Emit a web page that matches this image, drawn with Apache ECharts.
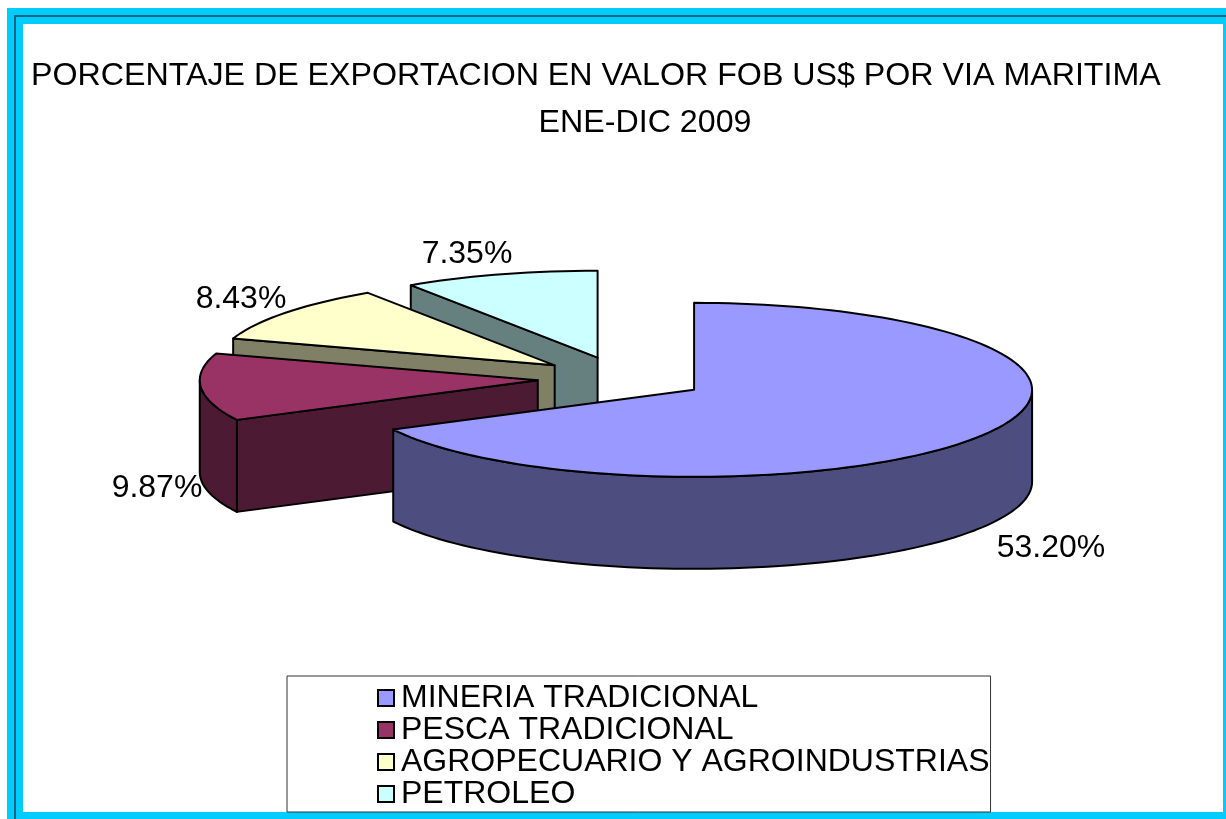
<!DOCTYPE html>
<html>
<head>
<meta charset="utf-8">
<style>
  html, body { margin: 0; padding: 0; background: #fff; }
  #main { width: 1226px; height: 819px; }
</style>
<script src="https://cdn.jsdelivr.net/npm/echarts@6/dist/echarts.min.js"></script>
</head>
<body>
<div id="main"></div>
<script>
const categories = ['MINERIA TRADICIONAL', 'PESCA TRADICIONAL', 'AGROPECUARIO Y AGROINDUSTRIAS', 'PETROLEO'];
const values = [53.20, 9.87, 8.43, 7.35];
const topColors = ['#9999FF', '#993366', '#FFFFCC', '#CCFFFF'];
const sideColors = ['#4D4D80', '#4D1A33', '#808066', '#668080'];
const labelBoxes = [[1051, 548], [157, 488], [241, 299], [467, 254]];

// pie layout
const cx = 622, cy = 378.5, rx = 338, ry = 87, depth = 92, explode = 0.25;
const FONT = 'Arial, "Liberation Sans", sans-serif';
const total = values.reduce((a, b) => a + b, 0);

function pt(ox, oy, deg, r) {
  const t = deg * Math.PI / 180;
  return [ox + rx * r * Math.sin(t), oy - ry * r * Math.cos(t)];
}
function arcPoints(ox, oy, a, b) {
  const pts = [];
  const n = Math.max(2, Math.ceil((b - a) / 2));
  for (let i = 0; i <= n; i++) pts.push(pt(ox, oy, a + (b - a) * i / n, 1));
  return pts;
}
function down(pts) {
  return pts.map(p => [p[0], p[1] + depth]).reverse();
}

function makeSlice(idx) {
  let before = 0;
  for (let i = 0; i < idx; i++) before += values[i];
  return function (params, api) {
    const a = before / total * 360;
    const b = a + api.value(0) / total * 360;
    const mid = pt(cx, cy, (a + b) / 2, explode);
    const ox = mid[0], oy = mid[1];
    const style = { stroke: '#000', lineWidth: 2, lineJoin: 'round' };
    const side = Object.assign({ fill: sideColors[idx] }, style);
    const kids = [];
    // radial walls facing the viewer
    [[a, Math.sin(a * Math.PI / 180) < -1e-6], [b, Math.sin(b * Math.PI / 180) > 1e-6]].forEach(w => {
      if (!w[1]) return;
      const edge = [pt(ox, oy, w[0], 1), [ox, oy]];
      kids.push({ type: 'polygon', shape: { points: edge.concat(down(edge)) }, style: side });
    });
    // outer wall, front half only
    const fa = Math.max(a, 90), fb = Math.min(b, 270);
    if (fb > fa) {
      const arc = arcPoints(ox, oy, fa, fb);
      kids.push({ type: 'polygon', shape: { points: arc.concat(down(arc)) }, style: side });
    }
    // top face
    kids.push({
      type: 'polygon',
      shape: { points: [[ox, oy]].concat(arcPoints(ox, oy, a, b)) },
      style: Object.assign({ fill: topColors[idx] }, style)
    });
    kids.push({
      type: 'text',
      style: {
        text: api.value(0).toFixed(2) + '%',
        x: labelBoxes[idx][0], y: labelBoxes[idx][1],
        align: 'center', verticalAlign: 'middle',
        font: '32px ' + FONT, fill: '#000'
      }
    });
    return { type: 'group', children: kids };
  };
}

const chart = echarts.init(document.getElementById('main'), null, { renderer: 'canvas' });

const option = {
  animation: false,
  backgroundColor: '#fff',
  graphic: [
    { type: 'rect', z: -2, shape: { x: 7, y: 8, width: 1219, height: 811 }, style: { fill: '#00CCFF' } },
    { type: 'polyline', z: -2, shape: { points: [[15, 819], [15, 16], [1226, 16]] }, style: { fill: null, stroke: '#006680', lineWidth: 2 } },
    { type: 'rect', z: -1, shape: { x: 23, y: 24, width: 1200, height: 788 }, style: { fill: '#fff' } },
    { type: 'text', z: 5, style: { text: 'PORCENTAJE DE EXPORTACION EN VALOR FOB US$ POR VIA MARITIMA', x: 31, y: 76, verticalAlign: 'middle', font: '32.2px ' + FONT, fill: '#000' } },
    { type: 'text', z: 5, style: { text: 'ENE-DIC 2009', x: 645, y: 123, align: 'center', verticalAlign: 'middle', font: '32.2px ' + FONT, fill: '#000' } }
  ],
  legend: {
    data: categories,
    orient: 'vertical',
    left: 287,
    top: 676,
    padding: [6, 1, 2, 90],
    itemWidth: 16,
    itemHeight: 16,
    itemGap: 0,
    icon: 'rect',
    selectedMode: false,
    borderColor: '#333',
    borderWidth: 1,
    itemStyle: { borderColor: '#000', borderWidth: 2 },
    textStyle: { fontFamily: FONT, fontSize: 32, color: '#000', padding: [0, 0, 0, 2] }
  },
  // drawn back to front
  series: categories.map((name, i) => ({
    type: 'custom',
    name: name,
    coordinateSystem: 'none',
    silent: true,
    z: 10 + (categories.length - i),
    itemStyle: { color: topColors[i] },
    renderItem: makeSlice(i),
    data: [[values[i]]]
  }))
};
chart.setOption(option);
</script>
</body>
</html>
